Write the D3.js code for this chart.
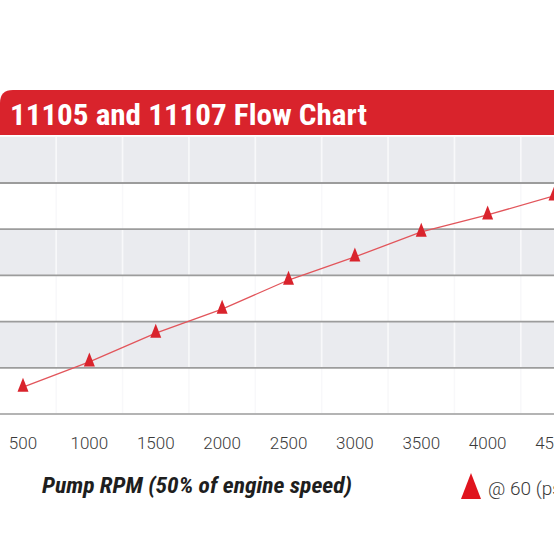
<!DOCTYPE html>
<html>
<head>
<meta charset="utf-8">
<script src="https://cdn.jsdelivr.net/npm/d3@7"></script>
<style>
  html, body { margin: 0; padding: 0; background: #fff; }
  svg { display: block; }
</style>
</head>
<body>
<script>
// ---- data ----
const rpmLabels = ["500", "1000", "1500", "2000", "2500", "3000", "3500", "4000", "4500"];
const flowValues = [5.8, 11.3, 17.5, 22.7, 29.0, 34.0, 39.4, 43.1, 47.2];
const yTicks = [0, 10, 20, 30, 40, 50];
const titleText = "11105 and 11107 Flow Chart";
const xTitleText = "Pump RPM (50% of engine speed)";
const legendText = "@ 60 (psi)";

// ---- setup ----
const W = 554, H = 554;
const svg = d3.select("body").append("svg").attr("width", W).attr("height", H);
svg.append("rect").attr("width", W).attr("height", H).attr("fill", "#ffffff");

const x = d3.scaleBand().domain(rpmLabels).range([-10.2, 587.2]).paddingInner(0).paddingOuter(0);
const y = d3.scaleLinear().domain([0, 50]).range([414, 183]);
const cx = d => x(d) + x.bandwidth() / 2;

// alternating bands
const bandEdges = [0, 10, 20, 30, 40, 50, 60];
const bands = d3.pairs(bandEdges);
svg.append("g").selectAll("rect").data(bands).join("rect")
  .attr("x", 0).attr("width", W)
  .attr("y", d => y(d[1]))
  .attr("height", d => y(d[0]) - y(d[1]))
  .attr("fill", (d, i) => i % 2 === 1 ? "#eaebef" : "#ffffff");

// vertical grid lines at band boundaries
svg.append("g").selectAll("line").data(rpmLabels).join("line")
  .attr("x1", d => x(d) + x.bandwidth()).attr("x2", d => x(d) + x.bandwidth())
  .attr("y1", y(60)).attr("y2", y(0))
  .attr("stroke", "#f8f8fa").attr("stroke-width", 1.6);

// horizontal grid lines
svg.append("g").selectAll("line").data(yTicks).join("line")
  .attr("x1", 0).attr("x2", W)
  .attr("y1", d => y(d)).attr("y2", d => y(d))
  .attr("stroke", d => d === 0 ? "#b4b4b4" : "#9c9c9c")
  .attr("stroke-width", 1.8);

// header
const hTop = 90, hBot = 135, r = 13;
svg.append("path")
  .attr("d", `M0,${hBot} L0,${hTop + r} Q0,${hTop} ${r},${hTop} L${W + 10},${hTop} L${W + 10},${hBot} Z`)
  .attr("fill", "#d9232c");
svg.append("text")
  .attr("x", 10).attr("y", 125)
  .attr("fill", "#ffffff")
  .attr("font-family", "'Liberation Sans Narrow', 'Roboto Condensed', 'Liberation Sans', Arial, sans-serif")
  .attr("font-weight", "bold")
  .attr("font-size", 30)
  .attr("textLength", 357).attr("lengthAdjust", "spacingAndGlyphs")
  .text(titleText);

// line
const line = d3.line().x((d, i) => cx(rpmLabels[i])).y(d => y(d));
svg.append("path").datum(flowValues)
  .attr("d", line)
  .attr("fill", "none")
  .attr("stroke", "#e2555b")
  .attr("stroke-width", 1.3);

// triangle markers (taller than wide, centred on centroid)
const triPath = (w, h) => `M0,${-2 * h / 3} L${w / 2},${h / 3} L${-w / 2},${h / 3} Z`;
svg.append("g").selectAll("path").data(flowValues).join("path")
  .attr("transform", (d, i) => `translate(${cx(rpmLabels[i])},${y(d)})`)
  .attr("d", triPath(11, 14))
  .attr("fill", "#d9232c");

// x axis labels
const xAxis = d3.axisBottom(x).tickSize(0).tickPadding(0);
const gx = svg.append("g").attr("transform", "translate(0,449)").call(xAxis);
gx.select(".domain").remove();
gx.selectAll("text")
  .attr("y", 0).attr("dy", null)
  .attr("fill", "#3a3a3a")
  .attr("font-family", "Roboto, 'Liberation Sans', Arial, sans-serif")
  .attr("font-weight", 300)
  .attr("font-size", 17);

// x axis title
svg.append("text")
  .attr("x", 42).attr("y", 493)
  .attr("fill", "#1e1e1e")
  .attr("font-family", "'Liberation Sans Narrow', 'Roboto Condensed', 'Liberation Sans', Arial, sans-serif")
  .attr("font-weight", "bold").attr("font-style", "italic")
  .attr("font-size", 22)
  .attr("textLength", 310).attr("lengthAdjust", "spacingAndGlyphs")
  .text(xTitleText);

// legend
svg.append("path")
  .attr("d", "M471,473 L481,499 L461,499 Z")
  .attr("fill", "#e0141e");
svg.append("text")
  .attr("x", 488).attr("y", 495)
  .attr("fill", "#3a3a3a")
  .attr("font-family", "Roboto, 'Liberation Sans', Arial, sans-serif")
  .attr("font-weight", 300)
  .attr("font-size", 19)
  .text(legendText);
</script>
</body>
</html>
